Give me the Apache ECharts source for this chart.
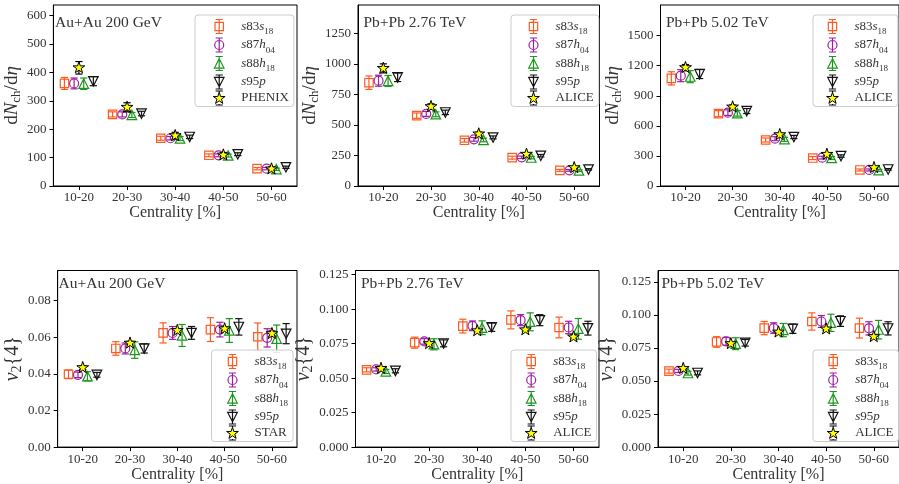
<!DOCTYPE html>
<html><head><meta charset="utf-8">
<script src="https://cdn.jsdelivr.net/npm/echarts@6/dist/echarts.min.js"></script>
<style>html,body{margin:0;padding:0;background:#fff}#c{width:899px;height:484px}</style>
</head><body><div id="c"></div>
<script>
// ---------- data ----------
const categories = ['10-20', '20-30', '30-40', '40-50', '50-60'];
const seriesNames = ['s83s18', 's87h04', 's88h18', 's95p'];

// each entry: [value, error]
// dN_ch/deta, Au+Au 200 GeV
const mult200_s83s18 = [[361, 21], [252, 9], [168, 7], [108, 5], [61, 4]];
const mult200_s87h04 = [[361, 19], [252, 9], [168, 6], [108, 5], [61, 4]];
const mult200_s88h18 = [[360, 20], [250, 9], [167, 7], [107, 5], [59, 4]];
const mult200_s95p   = [[369, 16], [255, 8], [173, 6], [112, 5], [66, 4]];
const mult200_phenix = [[416, 22], [277, 16], [177, 12], [109, 9], [60, 7]];
// dN_ch/deta, Pb+Pb 2.76 TeV
const mult276_s83s18 = [[846, 55], [576, 22], [374, 15], [232, 12], [128, 8]];
const mult276_s87h04 = [[862, 45], [590, 20], [382, 15], [235, 10], [128, 7]];
const mult276_s88h18 = [[860, 45], [587, 20], [377, 15], [232, 10], [126, 7]];
const mult276_s95p   = [[890, 35], [603, 18], [398, 12], [248, 10], [136, 6]];
const mult276_alice  = [[963, 37], [650, 23], [426, 15], [260, 9], [150, 6]];
// dN_ch/deta, Pb+Pb 5.02 TeV
const mult502_s83s18 = [[1074, 66], [722, 30], [459, 20], [279, 15], [160, 10]];
const mult502_s87h04 = [[1101, 60], [732, 28], [472, 20], [283, 14], [160, 10]];
const mult502_s88h18 = [[1091, 60], [725, 28], [466, 20], [279, 14], [156, 10]];
const mult502_s95p   = [[1117, 45], [748, 25], [489, 16], [299, 12], [166, 8]];
const mult502_alice  = [[1181, 31], [788, 20], [512, 15], [316, 12], [183, 8]];
// v2{4}, Au+Au 200 GeV
const v24_200_s83s18 = [[0.0398, 0.0024], [0.0539, 0.0037], [0.0624, 0.0055], [0.0642, 0.0065], [0.0603, 0.0075]];
const v24_200_s87h04 = [[0.0395, 0.0015], [0.0539, 0.0030], [0.0624, 0.0035], [0.0642, 0.0040], [0.0597, 0.0050]];
const v24_200_s88h18 = [[0.0387, 0.0025], [0.0530, 0.0045], [0.0610, 0.0060], [0.0637, 0.0065], [0.0592, 0.0075]];
const v24_200_s95p   = [[0.0395, 0.0013], [0.0539, 0.0025], [0.0624, 0.0035], [0.0657, 0.0045], [0.0620, 0.0055]];
const v24_200_star   = [[0.0434, 0.0010], [0.0568, 0.0010], [0.0637, 0.0010], [0.0646, 0.0010], [0.0620, 0.0015]];
// v2{4}, Pb+Pb 2.76 TeV
const v24_276_s83s18 = [[0.0560, 0.0015], [0.0757, 0.0040], [0.0877, 0.0050], [0.0922, 0.0065], [0.0867, 0.0075]];
const v24_276_s87h04 = [[0.0563, 0.0012], [0.0766, 0.0020], [0.0879, 0.0035], [0.0920, 0.0040], [0.0867, 0.0045]];
const v24_276_s88h18 = [[0.0548, 0.0015], [0.0745, 0.0040], [0.0865, 0.0050], [0.0908, 0.0065], [0.0857, 0.0075]];
const v24_276_s95p   = [[0.0553, 0.0015], [0.0752, 0.0025], [0.0869, 0.0030], [0.0920, 0.0040], [0.0862, 0.0050]];
const v24_276_alice  = [[0.0570, 0.0010], [0.0750, 0.0010], [0.0843, 0.0010], [0.0850, 0.0010], [0.0798, 0.0015]];
// v2{4}, Pb+Pb 5.02 TeV
const v24_502_s83s18 = [[0.0575, 0.0015], [0.0796, 0.0040], [0.0901, 0.0050], [0.0951, 0.0065], [0.0901, 0.0075]];
const v24_502_s87h04 = [[0.0577, 0.0012], [0.0801, 0.0030], [0.0901, 0.0040], [0.0951, 0.0045], [0.0899, 0.0050]];
const v24_502_s88h18 = [[0.0560, 0.0015], [0.0783, 0.0045], [0.0886, 0.0050], [0.0941, 0.0065], [0.0889, 0.0070]];
const v24_502_s95p   = [[0.0562, 0.0015], [0.0790, 0.0025], [0.0896, 0.0035], [0.0954, 0.0040], [0.0899, 0.0050]];
const v24_502_alice  = [[0.0595, 0.0010], [0.0783, 0.0010], [0.0871, 0.0010], [0.0894, 0.0010], [0.0836, 0.0015]];

// y tick labels
const yticks_mult200 = [0, 100, 200, 300, 400, 500, 600];
const yticks_mult276 = [0, 250, 500, 750, 1000, 1250];
const yticks_mult502 = [0, 300, 600, 900, 1200, 1500];
const yticks_v24_200 = [0, 0.02, 0.04, 0.06, 0.08];
const yticks_v24_276 = [0, 0.025, 0.05, 0.075, 0.1, 0.125];
const yticks_v24_502 = [0, 0.025, 0.05, 0.075, 0.1, 0.125];

// ---------- styling / layout ----------
const FONT = "'Liberation Serif', 'DejaVu Serif', serif";
const TXT = '#333';
const colors = { s83s18: '#ff5a1f', s87h04: '#9b1fa3', s88h18: '#1c961c', s95p: '#111111' };
const shapes = { s83s18: 'square', s87h04: 'circle', s88h18: 'up', s95p: 'down' };
const offsets = { s83s18: -0.3, s87h04: -0.1, s88h18: 0.1, s95p: 0.3, exp: 0 };

const panels = [
  { grid: [48.5, 5, 248.5, 181], ymax: 637, yticks: yticks_mult200, dec: 0, kind: 'mult', nameGap: 24.5,
    title: 'Au+Au 200 GeV', titlePos: [55, 23], legendPos: [195, 15], legendPad: [2, 5, 1, 4.7],
    exp: 'PHENIX', sets: [mult200_s83s18, mult200_s87h04, mult200_s88h18, mult200_s95p, mult200_phenix] },
  { grid: [358, 5, 241.5, 181], ymax: 1482, yticks: yticks_mult276, dec: 0, kind: 'mult', nameGap: 33,
    title: 'Pb+Pb 2.76 TeV', titlePos: [363.5, 23], legendPos: [511, 15], legendPad: [2, 5, 1, 3],
    exp: 'ALICE', sets: [mult276_s83s18, mult276_s87h04, mult276_s88h18, mult276_s95p, mult276_alice] },
  { grid: [660.5, 5, 241.5, 181], ymax: 1806, yticks: yticks_mult502, dec: 0, kind: 'mult', nameGap: 35,
    title: 'Pb+Pb 5.02 TeV', titlePos: [666, 23], legendPos: [813, 15], legendPad: [2, 5, 1, 0],
    exp: 'ALICE', sets: [mult502_s83s18, mult502_s87h04, mult502_s88h18, mult502_s95p, mult502_alice] },
  { grid: [52.5, 270.5, 244.5, 178], ymax: 0.0965, yticks: yticks_v24_200, dec: 2, kind: 'v24', nameGap: 28,
    title: 'Au+Au 200 GeV', titlePos: [58.5, 283.5], legendPos: [211.5, 350], legendPad: [2, 5, 1, 1.5],
    exp: 'STAR', sets: [v24_200_s83s18, v24_200_s87h04, v24_200_s88h18, v24_200_s95p, v24_200_star] },
  { grid: [355.5, 270.5, 243.5, 178], ymax: 0.128, yticks: yticks_v24_276, dec: 3, kind: 'v24', nameGap: 31.5,
    title: 'Pb+Pb 2.76 TeV', titlePos: [361, 283.5], legendPos: [511, 350], legendPad: [2, 5, 1, 0.7],
    exp: 'ALICE', sets: [v24_276_s83s18, v24_276_s87h04, v24_276_s88h18, v24_276_s95p, v24_276_alice] },
  { grid: [658, 270.5, 245, 178], ymax: 0.1337, yticks: yticks_v24_502, dec: 3, kind: 'v24', nameGap: 33,
    title: 'Pb+Pb 5.02 TeV', titlePos: [661.5, 283.5], legendPos: [813, 350], legendPad: [2, 5, 1, 0.7],
    exp: 'ALICE', sets: [v24_502_s83s18, v24_502_s87h04, v24_502_s88h18, v24_502_s95p, v24_502_alice] }
];

// ---------- marker drawing ----------
function starPoints(cx, cy, R) {
  const r = R * 0.382, pts = [];
  for (let k = 0; k < 10; k++) {
    const a = -Math.PI / 2 + k * Math.PI / 5;
    const rr = k % 2 === 0 ? R : r;
    pts.push([cx + rr * Math.cos(a), cy + rr * Math.sin(a)]);
  }
  return pts;
}
function markerShape(shape, x, y, color) {
  const st = { fill: 'none', stroke: color, lineWidth: 1.2 };
  switch (shape) {
    case 'square': return { type: 'rect', shape: { x: x - 4.2, y: y - 4.2, width: 8.4, height: 8.4 }, style: st };
    case 'circle': return { type: 'circle', shape: { cx: x, cy: y, r: 4.5 }, style: st };
    case 'up': return { type: 'polygon', shape: { points: [[x, y - 4.8], [x + 4.8, y + 4.6], [x - 4.8, y + 4.6]] }, style: st };
    case 'down': return { type: 'polygon', shape: { points: [[x, y + 4.8], [x + 4.8, y - 4.6], [x - 4.8, y - 4.6]] }, style: st };
    case 'star': return { type: 'polygon', shape: { points: starPoints(x, y, 6.2) }, style: { fill: '#ffff00', stroke: '#000', lineWidth: 1 } };
  }
}
function makeRender(shape, color) {
  return function (params, api) {
    const x = api.value(0), y = api.value(1), e = api.value(2);
    const c = api.coord([x, y]);
    const t = api.coord([x, y + e]);
    const b = api.coord([x, y - e]);
    const ls = { stroke: color, lineWidth: 1.2 };
    const cap = 3.6;
    return {
      type: 'group',
      children: [
        { type: 'line', shape: { x1: c[0], y1: t[1], x2: c[0], y2: b[1] }, style: ls },
        { type: 'line', shape: { x1: c[0] - cap, y1: t[1], x2: c[0] + cap, y2: t[1] }, style: ls },
        { type: 'line', shape: { x1: c[0] - cap, y1: b[1], x2: c[0] + cap, y2: b[1] }, style: ls },
        markerShape(shape, c[0], c[1], color)
      ]
    };
  };
}

// legend icons (box: x in [-17,17], y in [-7,7])
const W = 'M-17,0 M17,0 ';
const BAR = 'M0,-7 L0,7 M-3.6,-7 L3.6,-7 M-3.6,7 L3.6,7 ';
const legendIcons = {
  square: 'path://' + W + BAR + 'M-4.2,-4.2 L4.2,-4.2 L4.2,4.2 L-4.2,4.2 Z',
  circle: 'path://' + W + BAR + 'M4.5,0 A4.5,4.5 0 1,1 -4.5,0 A4.5,4.5 0 1,1 4.5,0 Z',
  up: 'path://' + W + BAR + 'M0,-4.8 L4.8,4.6 L-4.8,4.6 Z',
  down: 'path://' + W + BAR + 'M0,4.8 L4.8,-4.6 L-4.8,-4.6 Z',
  star: 'path://' + W + 'M0,-7 L0,-6 M0,6 L0,7 M-3.6,-7 L3.6,-7 M-3.6,7 L3.6,7 M' +
    starPoints(0, 0.4, 6.2).map(p => p[0].toFixed(2) + ',' + p[1].toFixed(2)).join(' L') + ' Z'
};
const legendLabels = {
  s83s18: '{it|s}{rm|83}{it|s}{sub|18}',
  s87h04: '{it|s}{rm|87}{it|h}{sub|04}',
  s88h18: '{it|s}{rm|88}{it|h}{sub|18}',
  s95p: '{it|s}{rm|95}{it|p}',
  PHENIX: '{rm|PHENIX}', ALICE: '{rm|ALICE}', STAR: '{rm|STAR}'
};
const legendRich = {
  it: { fontFamily: FONT, fontStyle: 'italic', fontSize: 13, lineHeight: 14, color: TXT },
  rm: { fontFamily: FONT, fontSize: 13, lineHeight: 14, color: TXT },
  sub: { fontFamily: FONT, fontSize: 9, lineHeight: 9, verticalAlign: 'bottom', padding: [0, 0, -3, 0], color: TXT }
};
function axisNameRich(fs) {
  return {
    it: { fontFamily: FONT, fontStyle: 'italic', fontSize: fs, lineHeight: fs + 3, color: TXT },
    rm: { fontFamily: FONT, fontSize: fs, lineHeight: fs + 3, color: TXT },
    sub: { fontFamily: FONT, fontSize: Math.round(fs * 0.7), lineHeight: Math.round(fs * 0.75), verticalAlign: 'bottom', color: TXT }
  };
}

// ---------- option ----------
const grids = [], xAxes = [], yAxes = [], titles = [], legends = [], series = [];
panels.forEach((p, i) => {
  const nameFs = p.kind === 'mult' ? 19 : 20;
  grids.push({ left: p.grid[0], top: p.grid[1], width: p.grid[2], height: p.grid[3],
    show: true, borderColor: '#000', borderWidth: 1, backgroundColor: 'transparent' });
  xAxes.push({
    gridIndex: i, type: 'value', min: 0.47, max: 5.53,
    axisLine: { show: true, lineStyle: { color: '#000', width: 1 } },
    splitLine: { show: false },
    axisTick: { show: true, customValues: [1, 2, 3, 4, 5], length: 4, lineStyle: { color: '#000', width: 1 } },
    axisLabel: { customValues: [1, 2, 3, 4, 5], formatter: v => categories[Math.round(v) - 1],
      fontFamily: FONT, fontSize: 13, color: TXT, margin: p.kind === 'mult' ? 5 : 6 },
    name: 'Centrality [%]', nameLocation: 'middle', nameGap: p.kind === 'mult' ? 18 : 19,
    nameTextStyle: { fontFamily: FONT, fontSize: 16, color: TXT }
  });
  yAxes.push({
    gridIndex: i, type: 'value', min: 0, max: p.ymax,
    axisLine: { show: true, lineStyle: { color: '#000', width: 1 } },
    splitLine: { show: false },
    axisTick: { show: true, customValues: p.yticks, length: 4, lineStyle: { color: '#000', width: 1 } },
    axisLabel: { customValues: p.yticks, formatter: v => v.toFixed(p.dec),
      fontFamily: FONT, fontSize: 13, color: TXT, margin: 7 },
    name: p.kind === 'mult' ? '{rm|d}{it|N}{sub|ch}{rm|/d}{it|η}' : '{it|v}{sub|2}{4}',
    nameLocation: 'middle', nameRotate: 90, nameGap: p.nameGap,
    nameTextStyle: { fontFamily: FONT, fontSize: nameFs, lineHeight: nameFs + 3, color: TXT, rich: axisNameRich(nameFs) }
  });
  titles.push({ text: p.title, left: p.titlePos[0], top: p.titlePos[1] - 9, padding: 0,
    textStyle: { fontFamily: FONT, fontSize: 15.5, fontWeight: 'normal', color: TXT, lineHeight: 18 } });
  const names = seriesNames.concat([p.exp]);
  legends.push({
    left: p.legendPos[0], top: p.legendPos[1], orient: 'vertical',
    itemWidth: 34, itemHeight: 14, itemGap: -1, padding: p.legendPad,
    backgroundColor: 'rgba(255,255,255,0.85)', borderColor: '#cccccc', borderWidth: 1, borderRadius: 3,
    selectedMode: false,
    formatter: n => legendLabels[n],
    textStyle: { fontFamily: FONT, fontSize: 13, lineHeight: 14, color: TXT, rich: legendRich },
    data: names.map((n, k) => {
      const isExp = k === 4;
      const shape = isExp ? 'star' : shapes[n];
      return {
        name: n, icon: legendIcons[shape],
        itemStyle: isExp ? { color: '#ffff00', borderColor: '#000', borderWidth: 1 }
                         : { color: 'none', borderColor: colors[n], borderWidth: 1.2 }
      };
    })
  });
  p.sets.forEach((arr, k) => {
    const isExp = k === 4;
    const n = names[k];
    const color = isExp ? '#000' : colors[n];
    const shape = isExp ? 'star' : shapes[n];
    const off = isExp ? offsets.exp : offsets[n];
    series.push({
      type: 'custom', name: n, xAxisIndex: i, yAxisIndex: i,
      renderItem: makeRender(shape, color),
      itemStyle: { color: color },
      encode: { x: 0, y: 1 },
      clip: false,
      data: arr.map((d, j) => [j + 1 + off, d[0], d[1]])
    });
  });
});

const chart = echarts.init(document.getElementById('c'), null, { renderer: 'canvas' });
chart.setOption({
  animation: false,
  backgroundColor: '#ffffff',
  grid: grids, xAxis: xAxes, yAxis: yAxes, title: titles, legend: legends, series: series
});
</script>
</body></html>
